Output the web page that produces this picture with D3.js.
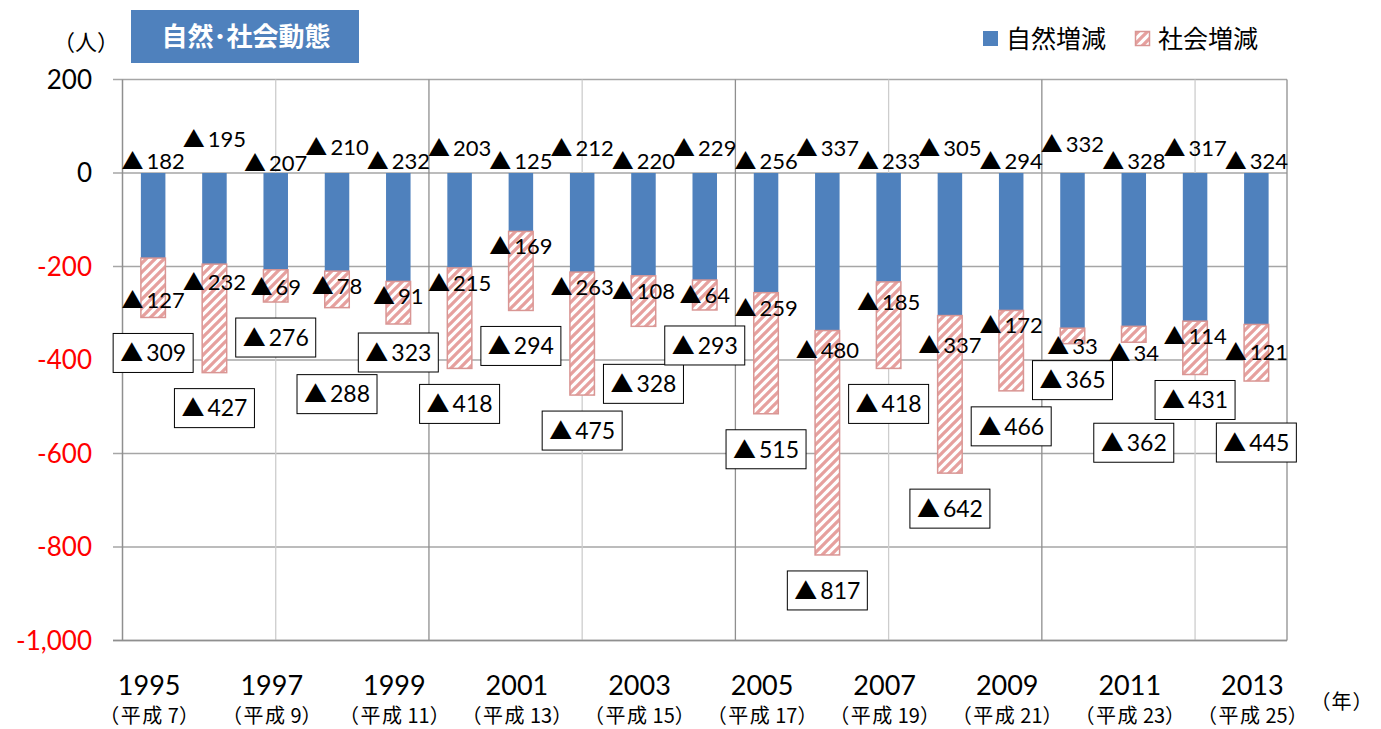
<!DOCTYPE html>
<html>
<head>
<meta charset="utf-8">
<script src="https://cdn.jsdelivr.net/npm/d3@7"></script>
<style>
  html, body { margin: 0; padding: 0; background: #fff; }
  svg { display: block; }
</style>
</head>
<body>
<svg id="chart" width="1381" height="729"></svg>
<script>
// ---- data -------------------------------------------------------------
const years = [1995, 1996, 1997, 1998, 1999, 2000, 2001, 2002, 2003, 2004,
               2005, 2006, 2007, 2008, 2009, 2010, 2011, 2012, 2013];
// natural decrease (deaths exceed births), persons
const naturalDecrease = [182, 195, 207, 210, 232, 203, 125, 212, 220, 229,
                         256, 337, 233, 305, 294, 332, 328, 317, 324];
// social decrease (net out-migration), persons
const socialDecrease = [127, 232, 69, 78, 91, 215, 169, 263, 108, 64,
                        259, 480, 185, 337, 172, 33, 34, 114, 121];
// total decrease shown in the boxed labels
const totalDecrease = [309, 427, 276, 288, 323, 418, 294, 475, 328, 293,
                       515, 817, 418, 642, 466, 365, 362, 431, 445];

const yTicks = [200, 0, -200, -400, -600, -800, -1000];
const xTickYears = [1995, 1997, 1999, 2001, 2003, 2005, 2007, 2009, 2011, 2013];
const xTickEra = [7, 9, 11, 13, 15, 17, 19, 21, 23, 25];   // 平成 year numbers

// label placement tweaks (px, downward) so neighbouring labels don't collide
const naturalLabelNudge = [0, -9, 2, -1, 0, 0, 0, 0, 0, 0, 0, 0, 0, 0, 0, -4, 0, 0, 0];
const socialLabelNudge  = [27, 3, 2, 0, 0, 0, 0, 0, 0, 0, 0, 4, 5, 14, 0, 3, 12, 0, 13];
const totalBoxNudge     = [0, 0, 0, 51, -7, 0, 0, 0, 22, 0, 0, 0, 0, 0, 0, 1, 65, -10, 26];

// ---- setup ------------------------------------------------------------
const svg = d3.select("#chart");
const numFont = "Lato, 'Noto Sans CJK JP', sans-serif";
const jpFont = "'Noto Sans CJK JP', 'Noto Sans', sans-serif";
const blue = "#4f81bd";
const pinkLine = "#d99694";

const plotLeft = 122.5, plotRight = 1287, plotTop = 79.5, plotBottom = 640.5;

const x = d3.scaleBand().domain(years).range([plotLeft, plotRight]).padding(0);
const y = d3.scaleLinear().domain([-1000, 200]).range([plotBottom, plotTop]);
const barW = x.step() * 0.4;
const cx = d => x(d) + x.bandwidth() / 2;

const fmt = d3.formatLocale({ decimal: ".", thousands: ",", grouping: [3], currency: ["", ""], minus: "-" }).format(",");

// hatch pattern for the social-change bars
const defs = svg.append("defs");
const pat = defs.append("pattern")
  .attr("id", "hatch")
  .attr("patternUnits", "userSpaceOnUse")
  .attr("width", 9).attr("height", 9);
pat.append("rect").attr("width", 9).attr("height", 9).attr("fill", "#fff");
pat.append("path")
  .attr("d", "M-4.5,4.5 L4.5,-4.5 M0,9 L9,0 M4.5,13.5 L13.5,4.5")
  .attr("stroke", "#e6a09e")
  .attr("stroke-width", 3.3);

// ---- grid -------------------------------------------------------------
const grid = svg.append("g");
grid.selectAll("line.h")
  .data(yTicks)
  .join("line")
  .attr("class", "h")
  .attr("x1", plotLeft - 9.5).attr("x2", plotRight)
  .attr("y1", d => y(d)).attr("y2", d => y(d))
  .attr("stroke", "#a6a6a6").attr("stroke-width", 1.3);

// vertical guides every two and a half categories; those on 5-year boundaries are darker
const vIdx = d3.range(1, 8);
grid.selectAll("line.v")
  .data(vIdx)
  .join("line")
  .attr("class", "v")
  .attr("x1", k => plotLeft + k * 2.5 * x.step())
  .attr("x2", k => plotLeft + k * 2.5 * x.step())
  .attr("y1", plotTop).attr("y2", plotBottom)
  .attr("stroke", k => k % 2 === 0 ? "#8f8f8f" : "#cdcdcd")
  .attr("stroke-width", 1.3);

// plot frame: left axis, right border, bottom axis
grid.append("line").attr("x1", plotLeft).attr("x2", plotLeft)
  .attr("y1", plotTop).attr("y2", plotBottom)
  .attr("stroke", "#8f8f8f").attr("stroke-width", 1.5);
grid.append("line").attr("x1", plotRight).attr("x2", plotRight)
  .attr("y1", plotTop).attr("y2", plotBottom)
  .attr("stroke", "#8f8f8f").attr("stroke-width", 1.3);
grid.append("line").attr("x1", plotLeft - 9.5).attr("x2", plotRight)
  .attr("y1", plotBottom).attr("y2", plotBottom)
  .attr("stroke", "#8f8f8f").attr("stroke-width", 1.5);

// y tick labels
svg.append("g").selectAll("text")
  .data(yTicks)
  .join("text")
  .attr("x", 92)
  .attr("y", d => y(d))
  .attr("dy", "0.36em")
  .attr("text-anchor", "end")
  .attr("font-family", numFont)
  .attr("font-size", 26)
  .attr("fill", d => d < 0 ? "#ff0000" : "#000")
  .text(d => fmt(d));

// ---- bars -------------------------------------------------------------
const bars = svg.append("g");
bars.selectAll("rect.nat")
  .data(years)
  .join("rect")
  .attr("class", "nat")
  .attr("x", d => cx(d) - barW / 2)
  .attr("width", barW)
  .attr("y", y(0))
  .attr("height", (d, i) => y(-naturalDecrease[i]) - y(0))
  .attr("fill", blue);

bars.selectAll("rect.soc")
  .data(years)
  .join("rect")
  .attr("class", "soc")
  .attr("x", d => cx(d) - barW / 2)
  .attr("width", barW)
  .attr("y", (d, i) => y(-naturalDecrease[i]))
  .attr("height", (d, i) => y(-naturalDecrease[i] - socialDecrease[i]) - y(-naturalDecrease[i]))
  .attr("fill", "url(#hatch)")
  .attr("stroke", pinkLine)
  .attr("stroke-width", 1.5);

// ---- value labels -----------------------------------------------------
// "▲n" label: triangle marks a decrease, digits follow after a small gap
function triLabel(sel, value) {
  sel.append("tspan").text("▲");
  sel.append("tspan").attr("dx", 3).text(value);
}

const labels = svg.append("g")
  .attr("font-family", numFont)
  .attr("font-size", 22)
  .attr("fill", "#000")
  .attr("text-anchor", "middle");

labels.selectAll("text.nat")
  .data(years)
  .join("text")
  .attr("class", "nat")
  .attr("x", d => cx(d))
  .attr("y", (d, i) => y(0) - (i % 2 ? 17 : 4) + naturalLabelNudge[i])
  .each(function (d, i) { triLabel(d3.select(this), naturalDecrease[i]); });

labels.selectAll("text.soc")
  .data(years)
  .join("text")
  .attr("class", "soc")
  .attr("x", d => cx(d))
  .attr("y", (d, i) => y(-naturalDecrease[i]) + 23 + socialLabelNudge[i])
  .each(function (d, i) { triLabel(d3.select(this), socialDecrease[i]); });

// boxed totals
const boxW = 80, boxH = 39;
const boxes = svg.append("g").selectAll("g")
  .data(years)
  .join("g")
  .attr("transform", (d, i) =>
    `translate(${cx(d)},${y(-totalDecrease[i]) + 35.5 + totalBoxNudge[i]})`);
boxes.append("rect")
  .attr("x", -boxW / 2).attr("y", -boxH / 2)
  .attr("width", boxW).attr("height", boxH)
  .attr("fill", "#fff").attr("stroke", "#000").attr("stroke-width", 1);
boxes.append("text")
  .attr("text-anchor", "middle")
  .attr("dy", "0.36em")
  .attr("font-family", numFont)
  .attr("font-size", 23)
  .each(function (d, i) { triLabel(d3.select(this), totalDecrease[i]); });

// ---- x axis labels ----------------------------------------------------
const xl = svg.append("g").selectAll("g")
  .data(xTickYears)
  .join("g")
  .attr("transform", d => `translate(${cx(d) - 4},0)`);
xl.append("text")
  .attr("y", 695)
  .attr("text-anchor", "middle")
  .attr("font-family", numFont)
  .attr("font-size", 27)
  .text(d => d);
const era = xl.append("text")
  .attr("y", 723)
  .attr("text-anchor", "middle")
  .attr("font-family", jpFont)
  .attr("font-size", 20);
era.append("tspan").attr("letter-spacing", 1.5).text("（平成");
era.append("tspan").attr("dx", 4).text((d, i) => xTickEra[i]);
era.append("tspan").text("）");

svg.append("text")
  .attr("x", 1342).attr("y", 709)
  .attr("text-anchor", "middle")
  .attr("font-family", jpFont)
  .attr("font-size", 20)
  .attr("letter-spacing", 1)
  .text("（年）");

// unit label
svg.append("text")
  .attr("x", 86).attr("y", 50)
  .attr("text-anchor", "middle")
  .attr("font-family", jpFont)
  .attr("font-size", 22)
  .text("（人）");

// ---- title badge ------------------------------------------------------
svg.append("rect")
  .attr("x", 131).attr("y", 10)
  .attr("width", 228).attr("height", 53)
  .attr("fill", blue);
svg.append("text")
  .attr("x", 246).attr("y", 46)
  .attr("text-anchor", "middle")
  .attr("font-family", jpFont)
  .attr("font-weight", "bold")
  .attr("font-size", 26)
  .attr("fill", "#fff")
  .text("自然･社会動態");

// ---- legend -----------------------------------------------------------
const legend = svg.append("g").attr("font-family", jpFont).attr("font-size", 25);
legend.append("rect").attr("x", 983).attr("y", 31).attr("width", 15).attr("height", 15).attr("fill", blue);
legend.append("text").attr("x", 1006).attr("y", 48).text("自然増減");
legend.append("rect").attr("x", 1135.5).attr("y", 31.5).attr("width", 14).attr("height", 14)
  .attr("fill", "url(#hatch)").attr("stroke", pinkLine).attr("stroke-width", 1.5);
legend.append("text").attr("x", 1158).attr("y", 48).text("社会増減");
</script>
</body>
</html>
